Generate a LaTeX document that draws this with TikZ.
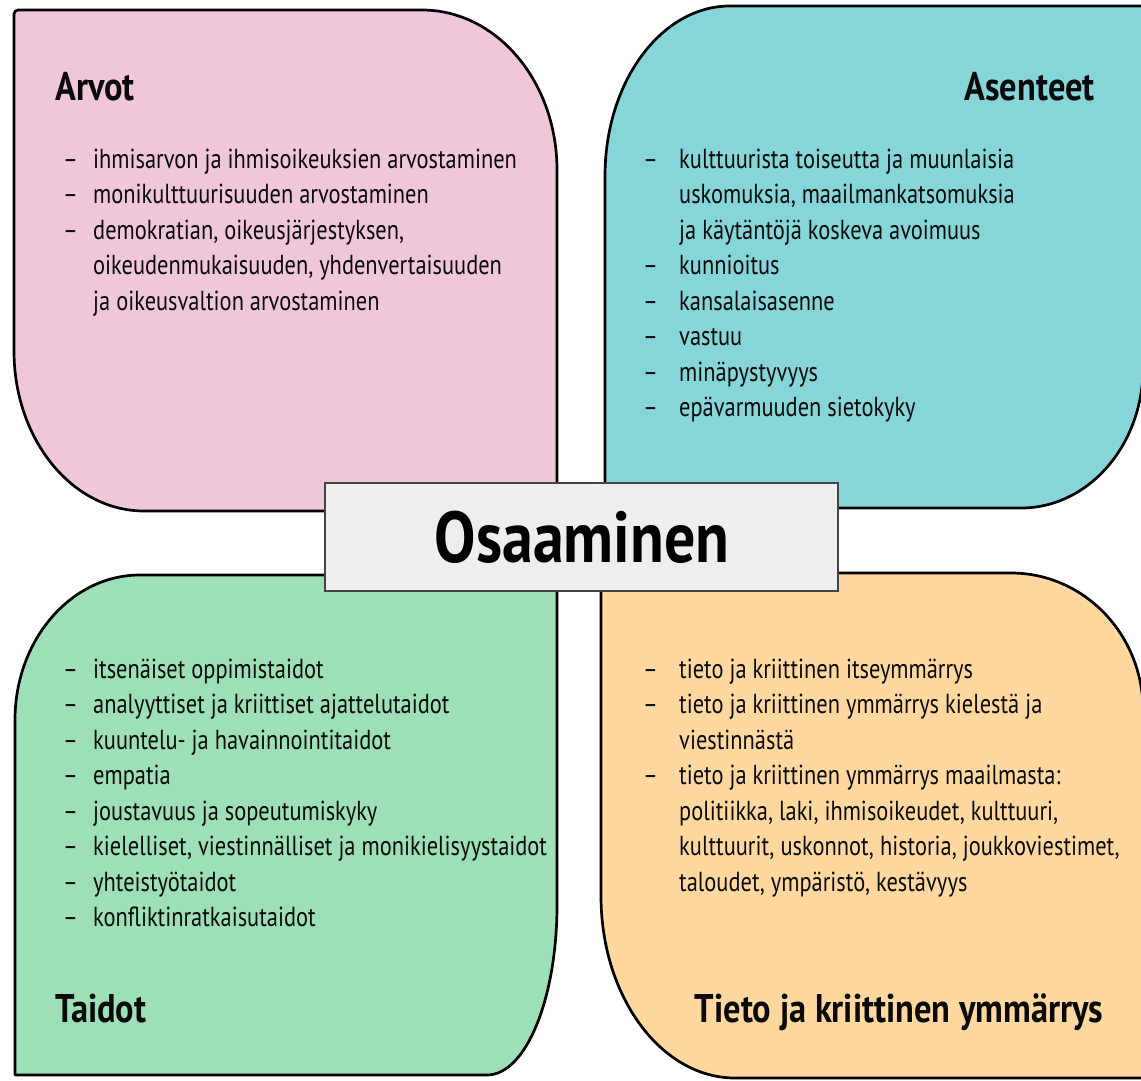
\documentclass[tikz,border=0pt]{standalone}
\usepackage{fontspec}
\newfontfamily\bodyfam[FakeStretch=0.815]{PT Sans}
\newfontfamily\headfam[FakeStretch=0.86]{PT Sans}
\newcommand\bodyfont{\bodyfam\fontsize{27.5}{35.5}\selectfont}
\newcommand\headfont{\headfam\bfseries\fontsize{40}{48}\selectfont}
\newcommand\bigfont{\headfam\bfseries\fontsize{72}{80}\selectfont}
\definecolor{pinkc}{HTML}{EFC6DA}
\definecolor{tealc}{HTML}{86D5D8}
\definecolor{greenc}{HTML}{9DDFB7}
\definecolor{orangec}{HTML}{FFD8A0}
\definecolor{centerc}{HTML}{EEEEEE}
\definecolor{centerline}{HTML}{444444}
\definecolor{txt}{HTML}{0A0A0A}
\tikzset{
  blob/.style={draw=black, line width=2.7pt, line join=round},
  body/.style={anchor=base west, inner sep=0pt, font=\bodyfont, text=txt},
  head/.style={inner sep=0pt, font=\headfont, text=txt},
}
\begin{document}
\begin{tikzpicture}[x=1pt,y=-1pt]
\useasboundingbox (0,0) rectangle (1141,1081);
\fill[white] (0,0) rectangle (1141,1081);
% Arvot (pink)
\path[blob, fill=pinkc] (14,14) -- (14,351) .. controls (14,439.4) and (72.2,511) .. (144,511) -- (557,511) -- (557,170) .. controls (557,81.6) and (496.6,10) .. (422,10) -- (18,10) .. controls (15.8,10) and (14,11.8) .. (14,14) -- cycle;
% Asenteet (teal)
\path[blob, fill=tealc] (605,508) -- (605,176) .. controls (605,82.1) and (661,6) .. (730,6) -- (1143,6) -- (1143,368) .. controls (1143,445.3) and (1088.4,508) .. (1021,508) -- cycle;
% Taidot (green)
\path[blob, fill=greenc] (15,1075) -- (15,720) .. controls (15,639.9) and (71,575) .. (140,575) -- (557,575) -- (557,905) .. controls (557,998.9) and (525.7,1075) .. (487,1075) -- cycle;
% Tieto (orange)
\path[blob, fill=orangec] (601,573) -- (1011,573) .. controls (1083.9,573) and (1143,634.3) .. (1143,710) -- (1143,1078) -- (735,1078) .. controls (661,1078) and (601,996.5) .. (601,896) -- cycle;

% headings
\node[head, anchor=base west] (harvot) at (55,100) {Arvot};
\node[head, anchor=base east] (hasenteet) at (1095,100) {Asenteet};
\node[head, anchor=base west] (htaidot) at (55,1022) {Taidot};
\node[head, anchor=base] (htieto) at (899,1022) {Tieto ja kriittinen ymmärrys};

% Arvot list
\foreach \t [count=\i] in {ihmisarvon ja ihmisoikeuksien arvostaminen, monikulttuurisuuden arvostaminen, {demokratian, oikeusjärjestyksen,}, {oikeudenmukaisuuden, yhdenvertaisuuden}, ja oikeusvaltion arvostaminen}
  \node[body] (arv\i) at (93,{168+35.5*(\i-1)}) {\t};
\foreach \i in {1,2,3}
  \node[body] (arvd\i) at (63,{168+35.5*(\i-1)}) {–};

% Asenteet list
\foreach \t [count=\i] in {kulttuurista toiseutta ja muunlaisia, {uskomuksia, maailmankatsomuksia}, ja käytäntöjä koskeva avoimuus, kunnioitus, kansalaisasenne, vastuu, minäpystyvyys, epävarmuuden sietokyky}
  \node[body] (ase\i) at (679,{168+35.5*(\i-1)}) {\t};
\foreach \i in {1,4,5,6,7,8}
  \node[body] (ased\i) at (643,{168+35.5*(\i-1)}) {–};

% Taidot list
\foreach \t [count=\i] in {itsenäiset oppimistaidot, analyyttiset ja kriittiset ajattelutaidot, kuuntelu- ja havainnointitaidot, empatia, joustavuus ja sopeutumiskyky, {kielelliset, viestinnälliset ja monikielisyystaidot}, yhteistyötaidot, konfliktinratkaisutaidot}
  \node[body] (tai\i) at (93,{678+35.5*(\i-1)}) {\t};
\foreach \i in {1,...,8}
  \node[body] (taid\i) at (63,{678+35.5*(\i-1)}) {–};

% Tieto list
\foreach \t [count=\i] in {tieto ja kriittinen itseymmärrys, tieto ja kriittinen ymmärrys kielestä ja, viestinnästä, tieto ja kriittinen ymmärrys maailmasta:, {politiikka, laki, ihmisoikeudet, kulttuuri,}, {kulttuurit, uskonnot, historia, joukkoviestimet,}, {taloudet, ympäristö, kestävyys}}
  \node[body] (tie\i) at (679,{678+35.5*(\i-1)}) {\t};
\foreach \i in {1,2,4}
  \node[body] (tied\i) at (643,{678+35.5*(\i-1)}) {–};

% centre
\node[draw=centerline, line width=1.3pt, fill=centerc, minimum width=513pt, minimum height=108pt, inner sep=0pt] (osaaminen) at (581.5,537) {};
\node[inner sep=0pt, font=\bigfont, text=black] (osaamisteksti) at (582,537) {Osaaminen};
\end{tikzpicture}
\end{document}
